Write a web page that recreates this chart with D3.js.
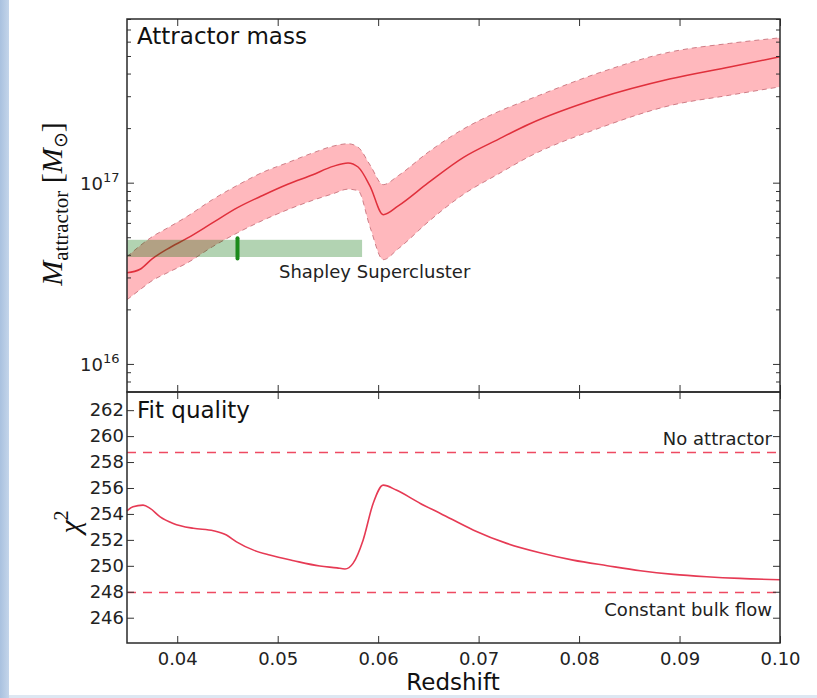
<!DOCTYPE html>
<html>
<head>
<meta charset="utf-8">
<script src="https://cdn.jsdelivr.net/npm/d3@7"></script>
<style>
  html, body { margin: 0; padding: 0; background: #fff; }
  svg { display: block; }
  .tick text { font-family: "DejaVu Sans", sans-serif; fill: #222; }
</style>
</head>
<body>
<div id="chart"></div>
<script>
// ---- data ----
// attractor mass band (units of 1e17 solar masses)
const redshift = [0.0350, 0.0363, 0.0375, 0.0390, 0.0410, 0.0435, 0.0460, 0.0485, 0.0510, 0.0535, 0.0555, 0.0570,
                  0.0580, 0.0592, 0.0605, 0.0620, 0.0650, 0.0685, 0.0720, 0.0750, 0.0820, 0.0890, 0.0950, 0.1000];
const massBest = [0.318, 0.333, 0.38, 0.43, 0.494, 0.60, 0.728, 0.85, 0.98, 1.107, 1.23, 1.285,
                  1.22, 0.955, 0.666, 0.745, 1.0, 1.38, 1.74, 2.10, 2.93, 3.73, 4.35, 4.95];
const massHigh = [0.39, 0.449, 0.503, 0.561, 0.652, 0.806, 0.968, 1.14, 1.29, 1.46, 1.59, 1.64,
                  1.57, 1.25, 0.975, 1.093, 1.475, 1.98, 2.47, 2.88, 4.04, 5.25, 5.87, 6.3];
const massLow  = [0.226, 0.257, 0.288, 0.318, 0.361, 0.443, 0.529, 0.619, 0.71, 0.80, 0.869, 0.921,
                  0.904, 0.567, 0.376, 0.432, 0.609, 0.863, 1.12, 1.39, 2.0, 2.66, 3.04, 3.38];

// Shapley supercluster box
const shapleyZ = [0.035, 0.0584];
const shapleyMass = [3.89e16, 4.84e16];
const shapleyMark = 0.046;

// fit quality
const chiZ = [0.0350, 0.0356, 0.0366, 0.0373, 0.0383, 0.0396, 0.0416, 0.0436, 0.0449, 0.0459, 0.0476, 0.0492,
              0.0516, 0.0542, 0.0559, 0.0567, 0.0575, 0.0585, 0.0595, 0.0605, 0.0618, 0.0642, 0.0662, 0.0695,
              0.0728, 0.0761, 0.0794, 0.0828, 0.0861, 0.0894, 0.0927, 0.0960, 0.1000];
const chiSq = [254.24, 254.55, 254.68, 254.43, 253.78, 253.27, 252.89, 252.70, 252.37, 251.85, 251.21, 250.83,
               250.39, 249.98, 249.84, 249.76, 250.19, 251.98, 254.81, 256.22, 255.84, 254.81, 254.04, 252.75,
               251.73, 251.01, 250.44, 250.01, 249.62, 249.34, 249.16, 249.03, 248.93];
const chiNoAttractor = 258.8;
const chiBulkFlow = 248.0;

// ticks
const xTicks = [0.04, 0.05, 0.06, 0.07, 0.08, 0.09, 0.10];
const massMajor = [1e16, 1e17];
const massMinor = [8e15, 9e15, 2e16, 3e16, 4e16, 5e16, 6e16, 7e16, 8e16, 9e16, 2e17, 3e17, 4e17, 5e17, 6e17, 7e17, 8e17];
const chiTicks = [246, 248, 250, 252, 254, 256, 258, 260, 262];

// ---- layout ----
const width = 817, height = 698;
const plotL = 127, plotR = 780, plotT = 19, plotM = 392, plotB = 643;

const svg = d3.select('#chart').append('svg')
    .attr('width', width)
    .attr('height', height);

// slide background bits
const grad = svg.append('defs').append('linearGradient').attr('id', 'side');
grad.append('stop').attr('offset', '0%').attr('stop-color', '#a9c1df');
grad.append('stop').attr('offset', '100%').attr('stop-color', '#c4d5ea');
svg.append('rect').attr('x', 0).attr('y', 0).attr('width', 9).attr('height', height).attr('fill', 'url(#side)');
svg.append('rect').attr('x', 9).attr('y', 695).attr('width', width - 9).attr('height', 3).attr('fill', '#dde7f2');

const x = d3.scaleLinear().domain([0.035, 0.10]).range([plotL, plotR]);
const yM = d3.scaleLog().domain([7e15, 8e17]).range([plotM, plotT]);
const yC = d3.scaleLinear().domain([244.05, 263.4]).range([plotB, plotM]);

// ---- top panel ----
const topG = svg.append('g');
topG.append('clipPath').attr('id', 'clipTop')
    .append('rect').attr('x', plotL).attr('y', plotT).attr('width', plotR - plotL).attr('height', plotM - plotT);

const band = redshift.map((z, i) => ({ z, best: massBest[i] * 1e17, lo: massLow[i] * 1e17, hi: massHigh[i] * 1e17 }));
const plotTop = topG.append('g').attr('clip-path', 'url(#clipTop)');

plotTop.append('path')
    .datum(band)
    .attr('fill', 'rgb(255,35,50)')
    .attr('fill-opacity', 0.32)
    .attr('d', d3.area().curve(d3.curveMonotoneX)
        .x(d => x(d.z)).y0(d => yM(d.lo)).y1(d => yM(d.hi)));

['lo', 'hi'].forEach(k => {
    plotTop.append('path')
        .datum(band)
        .attr('fill', 'none')
        .attr('stroke', '#cf7d86')
        .attr('stroke-width', 1)
        .attr('stroke-dasharray', '5,4')
        .attr('d', d3.line().curve(d3.curveMonotoneX).x(d => x(d.z)).y(d => yM(d[k])));
});

plotTop.append('path')
    .datum(band)
    .attr('fill', 'none')
    .attr('stroke', '#e0303c')
    .attr('stroke-width', 1.5)
    .attr('d', d3.line().curve(d3.curveMonotoneX).x(d => x(d.z)).y(d => yM(d.best)));

// Shapley box and marker
plotTop.append('rect')
    .attr('x', x(shapleyZ[0]))
    .attr('y', yM(shapleyMass[1]))
    .attr('width', x(shapleyZ[1]) - x(shapleyZ[0]))
    .attr('height', yM(shapleyMass[0]) - yM(shapleyMass[1]))
    .attr('fill', 'rgb(0,110,0)')
    .attr('fill-opacity', 0.3);
plotTop.append('line')
    .attr('x1', x(shapleyMark)).attr('x2', x(shapleyMark))
    .attr('y1', yM(shapleyMass[1]) - 1.5).attr('y2', yM(shapleyMass[0]) + 1.5)
    .attr('stroke', '#1b8a1b')
    .attr('stroke-width', 4)
    .attr('stroke-linecap', 'round');

topG.append('text')
    .attr('x', 279).attr('y', 278)
    .attr('font-family', 'DejaVu Sans, sans-serif')
    .attr('font-size', 18)
    .attr('fill', '#222')
    .text('Shapley Supercluster');

topG.append('text')
    .attr('x', 137).attr('y', 44)
    .attr('font-family', 'DejaVu Sans, sans-serif')
    .attr('font-size', 23)
    .attr('fill', '#111')
    .text('Attractor mass');

// ---- bottom panel ----
const botG = svg.append('g');
const hLines = [{ v: chiNoAttractor }, { v: chiBulkFlow }];
botG.selectAll('.ref')
    .data(hLines)
    .enter()
    .append('line')
    .attr('x1', plotL).attr('x2', plotR)
    .attr('y1', d => Math.round(yC(d.v)) + 0.5).attr('y2', d => Math.round(yC(d.v)) + 0.5)
    .attr('stroke', '#ee4a62')
    .attr('stroke-width', 1.6)
    .attr('stroke-dasharray', '9,7');

botG.append('path')
    .datum(chiZ.map((z, i) => ({ z, v: chiSq[i] })))
    .attr('fill', 'none')
    .attr('stroke', '#e63a54')
    .attr('stroke-width', 1.6)
    .attr('d', d3.line().curve(d3.curveMonotoneX).x(d => x(d.z)).y(d => yC(d.v)));

botG.append('text')
    .attr('x', 772).attr('y', yC(chiNoAttractor) - 7)
    .attr('text-anchor', 'end')
    .attr('font-family', 'DejaVu Sans, sans-serif')
    .attr('font-size', 18)
    .attr('fill', '#222')
    .text('No attractor');
botG.append('text')
    .attr('x', 772).attr('y', yC(chiBulkFlow) + 24)
    .attr('text-anchor', 'end')
    .attr('font-family', 'DejaVu Sans, sans-serif')
    .attr('font-size', 18)
    .attr('fill', '#222')
    .text('Constant bulk flow');

botG.append('text')
    .attr('x', 137).attr('y', 418)
    .attr('font-family', 'DejaVu Sans, sans-serif')
    .attr('font-size', 23)
    .attr('fill', '#111')
    .text('Fit quality');

// ---- axes (matplotlib style, ticks pointing inward on all sides) ----
const tickStroke = g => g.selectAll('line').attr('stroke', '#333').attr('stroke-width', 1);
const noDomain = g => g.select('.domain').remove();

function xTicksAt(y, axisFn, showLabels) {
    const g = svg.append('g')
        .attr('transform', `translate(0,${y})`)
        .call(axisFn(x).tickValues(xTicks).tickSize(-7).tickPadding(9)
            .tickFormat(showLabels ? d3.format('.2f') : ''));
    g.call(noDomain).call(tickStroke);
    g.selectAll('text').attr('font-size', 18);
    return g;
}
xTicksAt(plotT, d3.axisTop, false);
xTicksAt(plotM, d3.axisBottom, false);
xTicksAt(plotM, d3.axisTop, false);
xTicksAt(plotB, d3.axisBottom, true);

// mass axis
[[plotL, d3.axisLeft], [plotR, d3.axisRight]].forEach(([px, fn]) => {
    svg.append('g').attr('transform', `translate(${px},0)`)
        .call(fn(yM).tickValues(massMajor).tickSize(-7).tickFormat(''))
        .call(noDomain).call(tickStroke);
    svg.append('g').attr('transform', `translate(${px},0)`)
        .call(fn(yM).tickValues(massMinor).tickSize(-4).tickFormat(''))
        .call(noDomain).call(tickStroke);
});
const massLabels = svg.append('g')
    .selectAll('text')
    .data(massMajor)
    .enter()
    .append('text')
    .attr('x', 80)
    .attr('y', d => yM(d) + 7)
    .attr('font-family', 'DejaVu Sans, sans-serif')
    .attr('font-size', 18)
    .attr('fill', '#222');
massLabels.append('tspan').text('10');
massLabels.append('tspan')
    .attr('dy', -8)
    .attr('font-size', 13)
    .text(d => Math.round(Math.log10(d)));

// chi2 axis
svg.append('g').attr('transform', `translate(${plotL},0)`)
    .call(d3.axisLeft(yC).tickValues(chiTicks).tickSize(-7).tickPadding(3).tickFormat(d3.format('d')))
    .call(noDomain).call(tickStroke)
    .selectAll('text').attr('font-size', 18);
svg.append('g').attr('transform', `translate(${plotR},0)`)
    .call(d3.axisRight(yC).tickValues(chiTicks).tickSize(-7).tickFormat(''))
    .call(noDomain).call(tickStroke);

// frames
[[plotT, plotM], [plotM, plotB]].forEach(([y0, y1]) => {
    svg.append('rect')
        .attr('x', plotL).attr('y', y0)
        .attr('width', plotR - plotL).attr('height', y1 - y0)
        .attr('fill', 'none')
        .attr('stroke', '#2a2a2a')
        .attr('stroke-width', 1.5);
});

// axis titles
svg.append('text')
    .attr('x', 453).attr('y', 690)
    .attr('text-anchor', 'middle')
    .attr('font-family', 'DejaVu Sans, sans-serif')
    .attr('font-size', 23)
    .attr('fill', '#111')
    .text('Redshift');

const mLabel = svg.append('text')
    .attr('transform', 'translate(62,204) rotate(-90)')
    .attr('text-anchor', 'middle')
    .attr('font-family', 'Liberation Serif, serif')
    .attr('font-size', 30)
    .attr('fill', '#111');
mLabel.append('tspan').attr('font-style', 'italic').text('M');
mLabel.append('tspan').attr('font-size', 21).attr('dy', 6).text('attractor');
mLabel.append('tspan').attr('dy', -6).text(' [');
mLabel.append('tspan').attr('font-style', 'italic').text('M');
mLabel.append('tspan').attr('font-size', 19).attr('dy', 5).text('\u2299');
mLabel.append('tspan').attr('dy', -5).text(']');

const chiLabel = svg.append('text')
    .attr('transform', 'translate(80,522) rotate(-90)')
    .attr('text-anchor', 'middle')
    .attr('font-family', 'Liberation Serif, serif')
    .attr('font-size', 30)
    .attr('fill', '#111');
chiLabel.append('tspan').attr('font-style', 'italic').text('\u03c7');
chiLabel.append('tspan').attr('font-size', 20).attr('dy', -12).text('2');
</script>
</body>
</html>
